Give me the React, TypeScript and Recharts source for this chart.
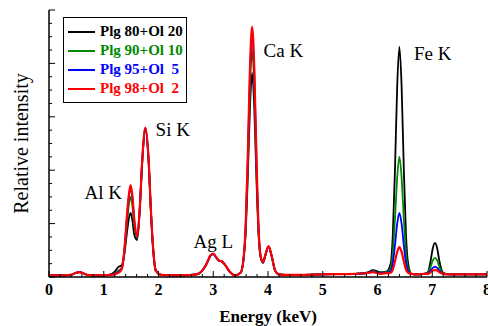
import React from "react";
import { LineChart, Line, XAxis, YAxis, ReferenceDot } from "recharts";

// energy grid (keV) and relative intensities
const energy = [
  0, 0.2, 0.4, 0.5, 0.55, 0.6, 0.7, 0.9, 1.1, 1.2,
  1.27, 1.33, 1.38, 1.42, 1.46, 1.49, 1.52, 1.56, 1.61, 1.66,
  1.7, 1.76, 1.82, 1.86, 1.9, 1.95, 2.05, 2.4, 2.7, 2.8,
  2.88, 2.95, 3.0, 3.05, 3.1, 3.16, 3.22, 3.3, 3.4, 3.5,
  3.55, 3.59, 3.63, 3.67, 3.71, 3.75, 3.79, 3.83, 3.87, 3.91,
  3.95, 4.01, 4.07, 4.13, 4.2, 4.4, 5.0, 5.6, 5.8, 5.92,
  6.05, 6.16, 6.24, 6.28, 6.32, 6.36, 6.4, 6.44, 6.48, 6.52,
  6.56, 6.62, 6.72, 6.85, 6.92, 6.97, 7.01, 7.05, 7.09, 7.13,
  7.2, 7.3, 7.6, 8.0,
];

const plg80 = [
  0.03, 0.03, 0.04, 0.08, 0.09, 0.08, 0.04, 0.03, 0.04, 0.1,
  0.19, 0.22, 0.45, 0.8, 1.1, 1.2, 1.08, 0.78, 0.69, 1.3,
  2.1, 2.74, 2.15, 1.25, 0.55, 0.12, 0.04, 0.03, 0.05, 0.12,
  0.25, 0.4, 0.43, 0.37, 0.31, 0.29, 0.22, 0.1, 0.03, 0.08,
  0.3, 0.8, 1.85, 3.15, 3.82, 3.15, 1.8, 0.75, 0.35, 0.27,
  0.4, 0.57, 0.38, 0.12, 0.05, 0.04, 0.05, 0.06, 0.08, 0.13,
  0.09, 0.1, 0.25, 0.8, 2.05, 3.58, 4.31, 3.58, 2.05, 0.8,
  0.25, 0.06, 0.05, 0.06, 0.09, 0.3, 0.54, 0.64, 0.54, 0.3,
  0.08, 0.05, 0.05, 0.05,
];

const plg90 = [
  0.03, 0.03, 0.04, 0.08, 0.09, 0.08, 0.04, 0.03, 0.04, 0.07,
  0.12, 0.18, 0.5, 0.97, 1.36, 1.5, 1.36, 0.95, 0.73, 1.32,
  2.13, 2.77, 2.17, 1.27, 0.56, 0.12, 0.04, 0.03, 0.05, 0.12,
  0.25, 0.4, 0.43, 0.37, 0.31, 0.29, 0.22, 0.1, 0.03, 0.08,
  0.3, 0.85, 2.02, 3.53, 4.25, 3.53, 2.0, 0.8, 0.35, 0.27,
  0.4, 0.57, 0.38, 0.12, 0.05, 0.04, 0.05, 0.06, 0.07, 0.11,
  0.08, 0.09, 0.16, 0.45, 1.1, 1.87, 2.25, 1.87, 1.1, 0.45,
  0.16, 0.06, 0.05, 0.06, 0.08, 0.19, 0.31, 0.36, 0.31, 0.19,
  0.07, 0.05, 0.05, 0.05,
];

const plg95 = [
  0.03, 0.03, 0.04, 0.08, 0.09, 0.08, 0.04, 0.03, 0.04, 0.06,
  0.1, 0.16, 0.54, 1.07, 1.51, 1.67, 1.51, 1.03, 0.75, 1.32,
  2.13, 2.79, 2.18, 1.27, 0.56, 0.12, 0.04, 0.03, 0.05, 0.12,
  0.25, 0.4, 0.43, 0.37, 0.31, 0.29, 0.22, 0.1, 0.03, 0.08,
  0.31, 0.88, 2.16, 3.78, 4.55, 3.78, 2.14, 0.84, 0.36, 0.27,
  0.4, 0.57, 0.38, 0.12, 0.05, 0.04, 0.05, 0.06, 0.07, 0.1,
  0.07, 0.08, 0.11, 0.26, 0.6, 1.0, 1.2, 1.0, 0.6, 0.26,
  0.11, 0.06, 0.05, 0.06, 0.07, 0.12, 0.17, 0.19, 0.17, 0.12,
  0.06, 0.05, 0.05, 0.05,
];

const plg98 = [
  0.03, 0.03, 0.04, 0.08, 0.09, 0.08, 0.04, 0.03, 0.04, 0.05,
  0.08, 0.15, 0.55, 1.1, 1.55, 1.72, 1.55, 1.05, 0.76, 1.33,
  2.14, 2.8, 2.19, 1.28, 0.57, 0.12, 0.04, 0.03, 0.05, 0.12,
  0.25, 0.41, 0.44, 0.38, 0.31, 0.29, 0.22, 0.1, 0.03, 0.08,
  0.32, 0.9, 2.22, 3.89, 4.69, 3.89, 2.2, 0.86, 0.37, 0.28,
  0.41, 0.58, 0.38, 0.12, 0.05, 0.04, 0.05, 0.06, 0.07, 0.09,
  0.06, 0.07, 0.08, 0.14, 0.3, 0.47, 0.56, 0.47, 0.3, 0.14,
  0.08, 0.06, 0.05, 0.06, 0.06, 0.09, 0.12, 0.13, 0.12, 0.09,
  0.06, 0.05, 0.05, 0.05,
];

const series = [
  { key: "plg80", name: "Plg 80+Ol 20", color: "#000000", values: plg80 },
  { key: "plg90", name: "Plg 90+Ol 10", color: "#008a00", values: plg90 },
  { key: "plg95", name: "Plg 95+Ol  5", color: "#0000ff", values: plg95 },
  { key: "plg98", name: "Plg 98+Ol  2", color: "#ff0000", values: plg98 },
];

const peakLabels = [
  { text: "Al K", x: 0.99, y: 1.59 },
  { text: "Si K", x: 2.26, y: 2.77 },
  { text: "Ag L", x: 3.0, y: 0.67 },
  { text: "Ca K", x: 4.28, y: 4.25 },
  { text: "Fe K", x: 7.01, y: 4.19 },
];

const xTickLabels = [0, 1, 2, 3, 4, 5, 6, 7, 8];
const xTicks = Array.from({ length: 41 }, (_, i) => +(i * 0.2).toFixed(1));
const yTicks = Array.from({ length: 21 }, (_, i) => i * 0.25);

const data = energy.map((e, i) => {
  const row: Record<string, number> = { energy: e };
  series.forEach((s) => (row[s.key] = s.values[i]));
  return row;
});

const serif = "Liberation Serif, DejaVu Serif, serif";
const isMajor = (v: number) => Math.abs(v - Math.round(v)) < 1e-6;

const BottomTick = ({ x, y, payload }: any) => {
  const major = isMajor(payload.value);
  return (
    <g>
      <line x1={x} x2={x} y1={y} y2={y - (major ? 6 : 3)} stroke="#000" />
      {major && xTickLabels.includes(Math.round(payload.value)) && (
        <text x={x} y={y + 18} textAnchor="middle" style={{ fontFamily: serif, fontWeight: "bold", fontSize: 16 }} fill="#000">
          {Math.round(payload.value)}
        </text>
      )}
    </g>
  );
};

const TopTick = ({ x, y, payload }: any) => (
  <line x1={x} x2={x} y1={y} y2={y + (isMajor(payload.value) ? 6 : 3)} stroke="#000" />
);

const LeftTick = ({ x, y, payload }: any) => (
  <line x1={x} x2={x + (isMajor(payload.value) ? 6 : 3)} y1={y} y2={y} stroke="#000" />
);

const RightTick = ({ x, y, payload }: any) => (
  <line x1={x} x2={x - (isMajor(payload.value) ? 6 : 3)} y1={y} y2={y} stroke="#000" />
);

export default function App() {
  return (
    <div style={{ position: "absolute", left: 0, top: 0, width: 488, height: 326, background: "#fff" }}>
      <LineChart width={488} height={326} data={data} margin={{ top: 10, right: 1, bottom: 19, left: 0 }}>
        <XAxis
          dataKey="energy"
          type="number"
          domain={[0, 8]}
          ticks={xTicks}
          interval={0}
          tickSize={0}
          tickMargin={0}
          tickLine={false}
          tick={<BottomTick />}
          height={30}
          axisLine={{ stroke: "#000", strokeWidth: 1.5 }}
          allowDataOverflow
          label={{
            content: (p: any) => (
              <text
                x={p.viewBox.x + p.viewBox.width / 2}
                y={p.viewBox.y + 45}
                textAnchor="middle"
                style={{ fontFamily: serif, fontWeight: "bold", fontSize: 17 }}
                fill="#000"
              >
                Energy (keV)
              </text>
            ),
          }}
        />
        <XAxis
          xAxisId="top"
          orientation="top"
          type="number"
          domain={[0, 8]}
          ticks={xTicks}
          interval={0}
          tickSize={0}
          tickMargin={0}
          tickLine={false}
          tick={<TopTick />}
          height={0}
          axisLine={{ stroke: "#000", strokeWidth: 1.5 }}
          allowDataOverflow
        />
        <YAxis
          type="number"
          domain={[0, 5]}
          ticks={yTicks}
          interval={0}
          tickSize={0}
          tickMargin={0}
          tickLine={false}
          tick={<LeftTick />}
          width={49}
          axisLine={{ stroke: "#000", strokeWidth: 1.5 }}
          allowDataOverflow
          label={{
            content: (p: any) => {
              const cx = p.viewBox.x + 21;
              const cy = p.viewBox.y + p.viewBox.height / 2;
              return (
                <text
                  x={cx}
                  y={cy}
                  transform={`rotate(-90, ${cx}, ${cy})`}
                  textAnchor="middle"
                  dominantBaseline="central"
                  style={{ fontFamily: serif, fontSize: 20 }}
                  fill="#000"
                >
                  Relative intensity
                </text>
              );
            },
          }}
        />
        <YAxis
          yAxisId="right"
          orientation="right"
          type="number"
          domain={[0, 5]}
          ticks={yTicks}
          interval={0}
          tickSize={0}
          tickMargin={0}
          tickLine={false}
          tick={<RightTick />}
          width={0}
          axisLine={{ stroke: "#000", strokeWidth: 1.5 }}
          allowDataOverflow
        />
        {series.map((s) => (
          <Line
            key={s.key}
            type="monotone"
            dataKey={s.key}
            stroke={s.color}
            strokeWidth={s.key === "plg98" ? 2.2 : 1.8}
            dot={false}
            isAnimationActive={false}
          />
        ))}
        {peakLabels.map((p) => (
          <ReferenceDot
            key={p.text}
            x={p.x}
            y={p.y}
            r={0}
            fill="none"
            stroke="none"
            label={{ value: p.text, position: "center", style: { fontFamily: serif, fontSize: 19 }, fill: "#000" }}
          />
        ))}
      </LineChart>
      <div
        style={{
          position: "absolute",
          left: 63,
          top: 17,
          width: 122,
          border: "1px solid #000",
          background: "#fff",
          padding: "4px 0 4px 0",
          fontFamily: serif,
          fontWeight: "bold",
          fontSize: 15,
        }}
      >
        {series.map((s) => (
          <div key={s.key} style={{ display: "flex", alignItems: "center", height: 19 }}>
            <div style={{ width: 27, height: 2, background: s.color, marginLeft: 4 }} />
            <span style={{ marginLeft: 5, color: s.color, whiteSpace: "pre" }}>{s.name}</span>
          </div>
        ))}
      </div>
    </div>
  );
}
